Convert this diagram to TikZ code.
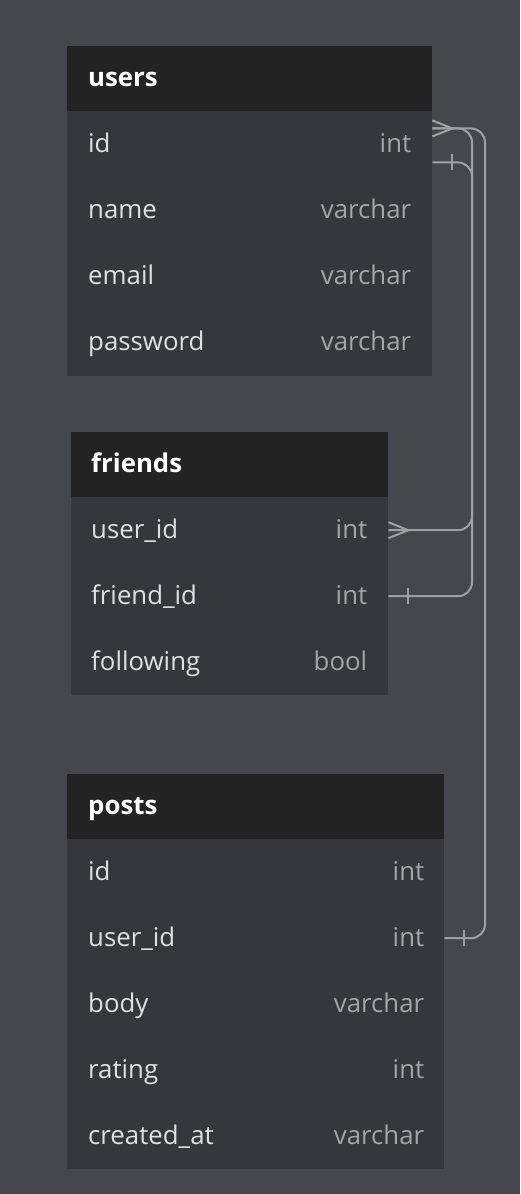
\documentclass[tikz,border=0pt]{standalone}
\usepackage{fontspec}
\setmainfont{Open Sans}
\usetikzlibrary{calc}
\definecolor{bg}{RGB}{70,71,76}
\definecolor{bodyc}{RGB}{54,55,60}
\definecolor{headc}{RGB}{35,35,35}
\definecolor{fname}{RGB}{224,224,224}
\definecolor{ftype}{RGB}{165,165,168}
\definecolor{linec}{RGB}{160,160,164}
\tikzset{
  hbox/.style={fill=headc, draw=none, inner sep=0pt, minimum height=65pt, anchor=north west},
  rowbox/.style={fill=bodyc, draw=none, inner sep=0pt, minimum height=66pt, anchor=north west},
  htext/.style={text=white, font=\fontsize{25.8}{30}\selectfont\bfseries, anchor=base west, inner sep=0pt},
  ntext/.style={text=fname, font=\fontsize{25.8}{30}\selectfont, anchor=base west, inner sep=0pt},
  ttext/.style={text=ftype, font=\fontsize{25.8}{30}\selectfont, anchor=base east, inner sep=0pt},
  conn/.style={draw=linec, line width=2pt, rounded corners=14pt},
  endmark/.style={draw=linec, line width=2pt}
}
\begin{document}
\begin{tikzpicture}[x=1pt,y=-1pt]
\useasboundingbox (0,0) rectangle (520,1194);
\fill[bg] (0,0) rectangle (520,1194);

% users
\node[hbox, minimum width=365pt] (uh) at (67,46) {};
\node[htext] (uht) at ($(uh.west)+(21,8)$) {users};
\foreach \i/\n/\t in {1/id/int,2/name/varchar,3/email/varchar,4/password/varchar}{
  \node[rowbox, minimum width=365pt, minimum height=66.5pt] (u\i) at (67,{111+66*(\i-1)}) {};
  \node[ntext] (u\i n) at ($(u\i.west)+(21,8)$) {\n};
  \node[ttext] (u\i t) at ($(u\i.east)+(-21,8)$) {\t};
}

% friends
\node[hbox, minimum width=317pt] (fh) at (71,432) {};
\node[htext] (fht) at ($(fh.west)+(20,8)$) {friends};
\foreach \i/\n/\t in {1/user\_id/int,2/friend\_id/int,3/following/bool}{
  \node[rowbox, minimum width=317pt] (f\i) at (71,{497+66*(\i-1)}) {};
  \node[ntext] (f\i n) at ($(f\i.west)+(20,8)$) {\n};
  \node[ttext] (f\i t) at ($(f\i.east)+(-21,8)$) {\t};
}

% posts
\node[hbox, minimum width=377pt] (ph) at (67,774) {};
\node[htext] (pht) at ($(ph.west)+(21,8)$) {posts};
\foreach \i/\n/\t in {1/id/int,2/user\_id/int,3/body/varchar,4/rating/int,5/created\_at/varchar}{
  \node[rowbox, minimum width=377pt] (p\i) at (67,{839+66*(\i-1)}) {};
  \node[ntext] (p\i n) at ($(p\i.west)+(21,8)$) {\n};
  \node[ttext] (p\i t) at ($(p\i.east)+(-20,8)$) {\t};
}

% connector anchor points
\coordinate (ucrow) at ($(u1.east)+(0,-16)$);
\coordinate (utee) at ($(u1.east)+(0,18)$);
\coordinate (inner) at (472,0);
\coordinate (outer) at (485,0);

% users.id -> friends.user_id
\draw[conn] (ucrow) -| (inner |- f1.east) -- (f1.east);
% users.id -> friends.friend_id
\draw[conn] (utee) -| (inner |- f2.east) -- (f2.east);
% users.id -> posts.user_id
\draw[conn] (ucrow) -| (outer |- p2.east) -- (p2.east);

% crow's feet
\draw[endmark] ($(ucrow)+(0,-8)$) -- ($(ucrow)+(20,0)$) -- ($(ucrow)+(0,8)$);
\draw[endmark] ($(f1.east)+(0,-8)$) -- ($(f1.east)+(20,0)$) -- ($(f1.east)+(0,8)$);
% tees
\draw[endmark] ($(utee)+(20,-8)$) -- ($(utee)+(20,8)$);
\draw[endmark] ($(f2.east)+(20,-8)$) -- ($(f2.east)+(20,8)$);
\draw[endmark] ($(p2.east)+(20,-8)$) -- ($(p2.east)+(20,8)$);
\end{tikzpicture}
\end{document}
